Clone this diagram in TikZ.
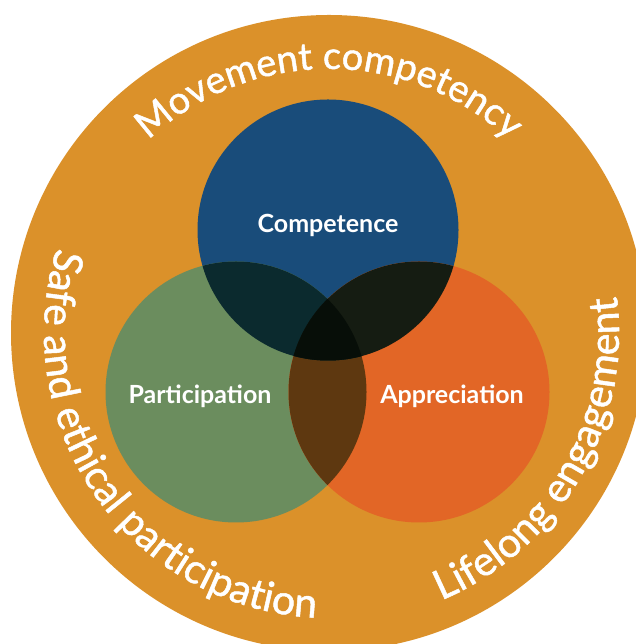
\documentclass[tikz,border=0pt]{standalone}
\usepackage{fontspec}
\setmainfont{Lato}
\newfontfamily\ringface[FakeBold=1.2]{Lato}
\usetikzlibrary{decorations.text}

\definecolor{ringorange}{HTML}{DB912A}
\definecolor{compblue}{HTML}{194C7A}
\definecolor{partgreen}{HTML}{6B8D5E}
\definecolor{apprred}{HTML}{E26626}
\definecolor{compart}{HTML}{0B2A2E}
\definecolor{compappr}{HTML}{151C12}
\definecolor{partappr}{HTML}{5E3810}
\definecolor{allthree}{HTML}{070E08}

\newcommand\ringfont[1]{\color{white}\ringface\fontsize{#1}{#1}\selectfont}

\tikzset{
  circlabel/.style={text=white, font=\fontsize{25}{28}\selectfont\bfseries},
  ringtext/.style={decorate, decoration={text along path, text align=center, text={#1}}}
}

\begin{document}
\begin{tikzpicture}[x=1pt, y=1pt]
\useasboundingbox (0,0) rectangle (635,644);

\def\Rring{318pt}; % outer ring
\def\R{130.5pt}; % venn circles

\coordinate (ring) at (329, 311);
\coordinate (comp) at (328, 414);
\coordinate (part) at (236, 252);
\coordinate (appr) at (419, 252);

\fill[ringorange] (ring) circle (\Rring);

\fill[compblue] (comp) circle (\R);
\fill[partgreen] (part) circle (\R);
\fill[apprred] (appr) circle (\R);

% overlaps
\begin{scope}
\clip (part) circle (\R);
\fill[partappr] (appr) circle (\R);
\end{scope}
\begin{scope}
\clip (comp) circle (\R);
\fill[compart] (part) circle (\R);
\fill[compappr] (appr) circle (\R);
\clip (part) circle (\R);
\fill[allthree] (appr) circle (\R);
\end{scope}

\node[circlabel] (c) at (328, 419) {Competence};
\node[circlabel] (p) at (200, 248) {Participation};
\node[circlabel] (a) at (452, 248) {Appreciation};

% ring texts
\path[ringtext={|\ringfont{38}|Movement competency}]
  (ring) ++(150:264pt) arc[start angle=150, end angle=30, radius=264pt];
\path[ringtext={|\ringfont{41}|Safe and ethical participation}]
  (ring) ++(140:285pt) arc[start angle=140, end angle=290, radius=285pt];
\path[ringtext={|\ringfont{41}|Lifelong engagement}]
  (ring) ++(-85:290pt) arc[start angle=-85, end angle=25, radius=290pt];

\end{tikzpicture}
\end{document}
